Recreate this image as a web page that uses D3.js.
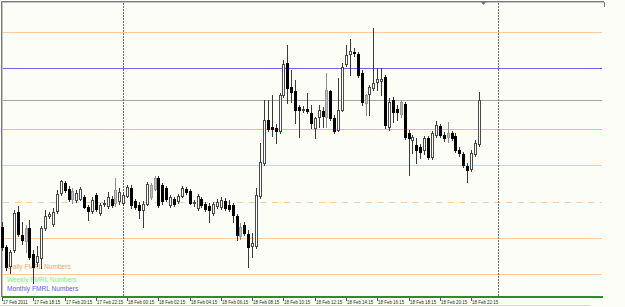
<!DOCTYPE html>
<html>
<head>
<meta charset="utf-8">
<script src="https://cdn.jsdelivr.net/npm/d3@7/dist/d3.min.js"></script>
<style>
    html, body { margin: 0; padding: 0; background: #fcfdf7; }
    svg { display: block; }
</style>
</head>
<body>
<div id="chart"></div>
<script>
// M15 bars, first bar 17 Feb 2011 16:15
const startTime = new Date(2011, 1, 17, 16, 15);
const barMinutes = 15;

const openPrices = [
    1.3473, 1.3453, 1.3434, 1.3450, 1.3488, 1.3465, 1.3459, 1.3472, 1.3446, 1.3438,
    1.3442, 1.3472, 1.3484, 1.3476, 1.3489, 1.3507, 1.3517, 1.3511, 1.3501, 1.3500,
    1.3501, 1.3503, 1.3493, 1.3489, 1.3505, 1.3487, 1.3496, 1.3494, 1.3501, 1.3497,
    1.3499, 1.3497, 1.3504, 1.3512, 1.3499, 1.3495, 1.3490, 1.3496, 1.3503, 1.3511,
    1.3522, 1.3515, 1.3512, 1.3495, 1.3501, 1.3499, 1.3504, 1.3511, 1.3509, 1.3497,
    1.3492, 1.3501, 1.3496, 1.3494, 1.3487, 1.3494, 1.3493, 1.3499, 1.3495, 1.3495,
    1.3484, 1.3464, 1.3475, 1.3466, 1.3454, 1.3454, 1.3504, 1.3537, 1.3580, 1.3573,
    1.3572, 1.3569, 1.3605, 1.3637, 1.3613, 1.3609, 1.3593, 1.3590, 1.3591, 1.3587,
    1.3572, 1.3583, 1.3589, 1.3583, 1.3609, 1.3582, 1.3570, 1.3590, 1.3636, 1.3646,
    1.3648, 1.3646, 1.3627, 1.3597, 1.3606, 1.3612, 1.3618, 1.3619, 1.3623, 1.3573,
    1.3600, 1.3591, 1.3586, 1.3596, 1.3567, 1.3560, 1.3555, 1.3553, 1.3550, 1.3562,
    1.3543, 1.3565, 1.3574, 1.3565, 1.3563, 1.3567, 1.3564, 1.3550, 1.3546, 1.3534,
    1.3531, 1.3546, 1.3556
];
const highPrices = [
    1.3478, 1.3455, 1.3450, 1.3490, 1.3494, 1.3478, 1.3475, 1.3480, 1.3450, 1.3454,
    1.3474, 1.3490, 1.3488, 1.3492, 1.3510, 1.3520, 1.3519, 1.3514, 1.3512, 1.3510,
    1.3513, 1.3505, 1.3495, 1.3503, 1.3507, 1.3497, 1.3500, 1.3508, 1.3504, 1.3522,
    1.3512, 1.3508, 1.3515, 1.3515, 1.3501, 1.3498, 1.3499, 1.3518, 1.3517, 1.3524,
    1.3524, 1.3517, 1.3514, 1.3505, 1.3503, 1.3506, 1.3514, 1.3513, 1.3511, 1.3500,
    1.3506, 1.3503, 1.3498, 1.3497, 1.3498, 1.3501, 1.3503, 1.3502, 1.3500, 1.3497,
    1.3486, 1.3477, 1.3478, 1.3470, 1.3467, 1.3512, 1.3557, 1.3600, 1.3600, 1.3605,
    1.3576, 1.3607, 1.3640, 1.3655, 1.3630, 1.3620, 1.3595, 1.3594, 1.3607, 1.3595,
    1.3583, 1.3595, 1.3593, 1.3627, 1.3610, 1.3585, 1.3622, 1.3637, 1.3655, 1.3661,
    1.3652, 1.3648, 1.3630, 1.3606, 1.3615, 1.3672, 1.3632, 1.3632, 1.3625, 1.3602,
    1.3603, 1.3595, 1.3600, 1.3598, 1.3570, 1.3565, 1.3562, 1.3556, 1.3564, 1.3564,
    1.3569, 1.3579, 1.3576, 1.3568, 1.3578, 1.3569, 1.3567, 1.3553, 1.3548, 1.3537,
    1.3550, 1.3560, 1.3608
];
const lowPrices = [
    1.3450, 1.3430, 1.3427, 1.3448, 1.3464, 1.3456, 1.3448, 1.3441, 1.3417, 1.3434,
    1.3432, 1.3470, 1.3482, 1.3474, 1.3487, 1.3505, 1.3508, 1.3499, 1.3497, 1.3498,
    1.3500, 1.3492, 1.3480, 1.3487, 1.3489, 1.3485, 1.3494, 1.3492, 1.3493, 1.3494,
    1.3496, 1.3495, 1.3503, 1.3492, 1.3491, 1.3482, 1.3473, 1.3495, 1.3501, 1.3510,
    1.3493, 1.3496, 1.3499, 1.3493, 1.3494, 1.3497, 1.3503, 1.3506, 1.3496, 1.3494,
    1.3490, 1.3493, 1.3489, 1.3478, 1.3485, 1.3492, 1.3491, 1.3490, 1.3489, 1.3478,
    1.3460, 1.3461, 1.3465, 1.3433, 1.3443, 1.3452, 1.3502, 1.3535, 1.3569, 1.3564,
    1.3557, 1.3567, 1.3603, 1.3597, 1.3598, 1.3577, 1.3563, 1.3588, 1.3587, 1.3572,
    1.3562, 1.3573, 1.3573, 1.3573, 1.3580, 1.3567, 1.3569, 1.3589, 1.3634, 1.3625,
    1.3644, 1.3623, 1.3595, 1.3585, 1.3585, 1.3610, 1.3610, 1.3605, 1.3572, 1.3570,
    1.3578, 1.3580, 1.3583, 1.3561, 1.3525, 1.3547, 1.3537, 1.3542, 1.3546, 1.3541,
    1.3541, 1.3563, 1.3563, 1.3559, 1.3558, 1.3560, 1.3548, 1.3544, 1.3533, 1.3518,
    1.3529, 1.3544, 1.3554
];
const closePrices = [
    1.3453, 1.3433, 1.3448, 1.3487, 1.3466, 1.3460, 1.3472, 1.3443, 1.3433, 1.3444,
    1.3472, 1.3484, 1.3486, 1.3488, 1.3506, 1.3519, 1.3510, 1.3501, 1.3509, 1.3507,
    1.3511, 1.3493, 1.3489, 1.3500, 1.3491, 1.3495, 1.3497, 1.3503, 1.3495, 1.3510,
    1.3508, 1.3505, 1.3513, 1.3495, 1.3493, 1.3490, 1.3496, 1.3516, 1.3515, 1.3522,
    1.3495, 1.3499, 1.3501, 1.3503, 1.3496, 1.3504, 1.3512, 1.3508, 1.3497, 1.3498,
    1.3504, 1.3495, 1.3491, 1.3490, 1.3496, 1.3498, 1.3500, 1.3492, 1.3491, 1.3485,
    1.3465, 1.3473, 1.3467, 1.3453, 1.3457, 1.3505, 1.3538, 1.3580, 1.3571, 1.3571,
    1.3569, 1.3605, 1.3636, 1.3612, 1.3608, 1.3590, 1.3590, 1.3591, 1.3589, 1.3577,
    1.3582, 1.3590, 1.3584, 1.3610, 1.3582, 1.3569, 1.3590, 1.3633, 1.3645, 1.3649,
    1.3647, 1.3625, 1.3598, 1.3605, 1.3613, 1.3617, 1.3621, 1.3621, 1.3575, 1.3598,
    1.3588, 1.3588, 1.3598, 1.3563, 1.3562, 1.3563, 1.3550, 1.3548, 1.3562, 1.3543,
    1.3567, 1.3575, 1.3565, 1.3562, 1.3567, 1.3562, 1.3550, 1.3547, 1.3535, 1.3530,
    1.3547, 1.3557, 1.3600
];
// bars painted grey on the original chart
const greyBars = [6, 18, 29, 38, 39, 61, 83, 93, 102, 114];

const dailyLevels = [1.3668, 1.3535, 1.3462, 1.3426];
const dailyMidLevels = [1.3498];
const weeklyLevels = [1.3571];
const monthlyLevels = [1.3632];
const pivotLevels = [1.3600];
const daySeparators = [new Date(2011, 1, 18, 0, 0), new Date(2011, 1, 19, 0, 0)];
const legendLabels = ['Daily FMRL Numbers', 'Weekly FMRL Numbers', 'Monthly FMRL Numbers'];
const legendColors = ['#f4a46a', '#7cf27c', '#6a5cf0'];

const drawChart = () => {
    const width = 625,
          height = 307,
          plot = {left: 2, right: 602, top: 2, bottom: 296},
          barCount = openPrices.length,
          barStep = 3.908,
          xStart = 2.1;

    const bars = openPrices.map((o, i) => ({
        time: new Date(+startTime + i * barMinutes * 60000),
        open: o,
        high: highPrices[i],
        low: lowPrices[i],
        close: closePrices[i],
        grey: greyBars.includes(i)
    }));

    const endTime = daySeparators[1];
    const endIndex = (endTime - startTime) / (barMinutes * 60000);

    const svg = d3.select('#chart')
                    .append('svg')
                    .attr('width', width)
                    .attr('height', height)
                    .style('font-family', 'Liberation Sans, Arial, sans-serif');

    svg.append('rect')
        .attr('width', width)
        .attr('height', height)
        .attr('fill', '#fcfdf7');

    const x = d3.scaleTime()
                .domain([startTime, endTime])
                .range([xStart, xStart + barStep * endIndex]);

    const y = d3.scaleLinear()
                .domain([1.3404, 1.3698])
                .range([plot.bottom, plot.top]);

    const px = v => Math.round(x(v));
    const py = v => Math.round(y(v));

    // frame
    svg.append('line').attr('x1', 1).attr('x2', 604).attr('y1', 1.5).attr('y2', 1.5).attr('stroke', '#7a7a7a');
    svg.append('line').attr('x1', 2).attr('x2', 604).attr('y1', 2.5).attr('y2', 2.5).attr('stroke', '#c4c4c4');
    svg.append('line').attr('x1', 1.5).attr('x2', 1.5).attr('y1', 1).attr('y2', 297).attr('stroke', '#7a7a7a');
    svg.append('line').attr('x1', 2.5).attr('x2', 2.5).attr('y1', 2).attr('y2', 297).attr('stroke', '#c4c4c4');
    svg.append('line').attr('x1', 604.5).attr('x2', 604.5).attr('y1', 2).attr('y2', 7).attr('stroke', '#7a7a7a');

    // level lines
    const levelGroups = [
        {levels: dailyLevels, color: '#fccb9e', dash: null},
        {levels: dailyMidLevels, color: '#fccb9e', dash: '6,5.7'},
        {levels: weeklyLevels, color: '#8fe88f', dash: null},
        {levels: monthlyLevels, color: '#6868f6', dash: null},
        {levels: pivotLevels, color: '#a4a49c', dash: null}
    ];

    levelGroups.forEach(g => {
        svg.selectAll(null)
            .data(g.levels)
            .enter()
            .append('line')
            .attr('x1', plot.left + 1)
            .attr('x2', plot.right)
            .attr('y1', d => py(d) + 0.5)
            .attr('y2', d => py(d) + 0.5)
            .attr('stroke', g.color)
            .attr('stroke-width', 1)
            .attr('stroke-dasharray', g.dash);
    });

    // day separators
    svg.selectAll('.sep')
        .data(daySeparators)
        .enter()
        .append('line')
        .attr('class', 'sep')
        .attr('x1', d => px(d) + 0.5)
        .attr('x2', d => px(d) + 0.5)
        .attr('y1', plot.top + 1)
        .attr('y2', plot.bottom)
        .attr('stroke', '#707070')
        .attr('stroke-dasharray', '2,1');

    // legend
    svg.selectAll('.legend')
        .data(legendLabels)
        .enter()
        .append('text')
        .attr('class', 'legend')
        .attr('x', (d, i) => i === 0 ? 8 : 7)
        .attr('y', (d, i) => [269, 281.5, 291][i])
        .attr('font-size', '6.6px')
        .attr('fill', (d, i) => legendColors[i])
        .text(d => d);

    // candles
    const candle = svg.selectAll('.candle')
                        .data(bars)
                        .enter()
                        .append('g')
                        .attr('class', 'candle');

    candle.append('line')
        .attr('x1', d => px(d.time) + 0.5)
        .attr('x2', d => px(d.time) + 0.5)
        .attr('y1', d => py(d.high))
        .attr('y2', d => py(d.low) + 1)
        .attr('stroke', d => d.grey ? '#8c8c8c' : '#3a3a3a');

    candle.append('rect')
        .attr('x', d => px(d.time) - 0.5)
        .attr('y', d => py(Math.max(d.open, d.close)) + 0.5)
        .attr('width', 2)
        .attr('height', d => Math.max(py(Math.min(d.open, d.close)) - py(Math.max(d.open, d.close)), 1))
        .attr('fill', d => {
            if (d.grey) return '#bdbdbd';
            return d.close >= d.open ? '#ffffff' : '#000000';
        })
        .attr('stroke', d => {
            if (d.grey) return '#9a9a9a';
            return d.close >= d.open ? '#4a4a4a' : '#000000';
        });

    // shift marker
    svg.append('path')
        .attr('d', 'M481,2 L486,2 L483.5,5 Z')
        .attr('fill', '#707070');

    // time axis
    svg.append('line')
        .attr('x1', plot.left)
        .attr('x2', plot.right + 1)
        .attr('y1', 297)
        .attr('y2', 297)
        .attr('stroke', '#2e8b2e')
        .attr('stroke-width', 2);

    const tickTimes = d3.range(0, barCount, 8).map(i => new Date(+startTime + i * barMinutes * 60000));
    const fmt = d3.timeFormat('%d %b %H:%M');

    svg.selectAll('.tick-mark')
        .data(tickTimes)
        .enter()
        .append('line')
        .attr('class', 'tick-mark')
        .attr('x1', d => px(d) + 0.5)
        .attr('x2', d => px(d) + 0.5)
        .attr('y1', 298)
        .attr('y2', 301)
        .attr('stroke', '#555');

    const tickLabels = svg.selectAll('.tick-label')
        .data(tickTimes)
        .enter()
        .append('text')
        .attr('class', 'tick-label')
        .attr('x', d => px(d) + 1)
        .attr('y', 304)
        .attr('font-size', '5.3px')
        .attr('fill', '#2a2a2a')
        .text((d, i) => i === 0 ? d3.timeFormat('%d %b %Y')(d) : fmt(d));

    // the terminal font is narrower than Liberation Sans
    tickLabels.each(function() {
        const w = this.getComputedTextLength();
        d3.select(this)
            .attr('textLength', w * 0.84)
            .attr('lengthAdjust', 'spacingAndGlyphs');
    });

    svg.append('line')
        .attr('x1', 0)
        .attr('x2', 590)
        .attr('y1', 305.5)
        .attr('y2', 305.5)
        .attr('stroke', '#dadada');
};

drawChart();
</script>
</body>
</html>
